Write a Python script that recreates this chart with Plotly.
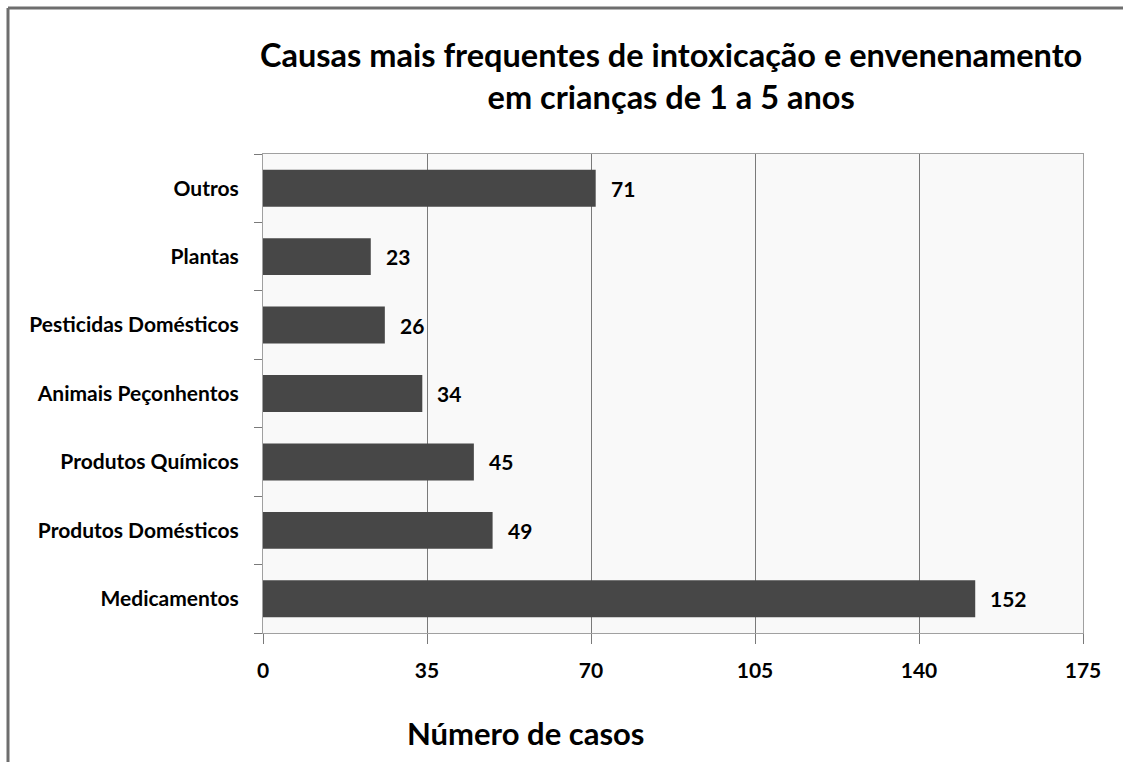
import plotly.graph_objects as go

categories = ["Medicamentos", "Produtos Domésticos", "Produtos Químicos",
              "Animais Peçonhentos", "Pesticidas Domésticos", "Plantas", "Outros"]
values = [152, 49, 45, 34, 26, 23, 71]
x_ticks = [0, 35, 70, 105, 140, 175]

title_text = "Causas mais frequentes de intoxicação e envenenamento<br>em crianças de 1 a 5 anos"
x_title = "Número de casos"

FONT = "Lato"
W, H = 1123, 762
L, R, T, B = 263, 40, 154, 129
pw, ph = W - L - R, H - T - B


def px(x):
    return (x - L) / pw


def py(y):
    return (H - B - y) / ph


fig = go.Figure(go.Bar(
    x=values, y=categories, orientation="h",
    marker=dict(color="#474747", line=dict(width=0)),
    cliponaxis=False,
))

annotations = [
    dict(text=str(v), x=v, y=c, xref="x", yref="y", xanchor="left", yanchor="middle",
         xshift=13, showarrow=False,
         font=dict(family=FONT, size=21, color="#000000", weight="bold"))
    for c, v in zip(categories, values)
]
annotations += [
    dict(text=title_text, xref="paper", yref="paper", x=px(671), y=py(76),
         xanchor="center", yanchor="middle", showarrow=False,
         font=dict(family=FONT, size=32.5, weight="bold")),
    dict(text=x_title, xref="paper", yref="paper", x=px(525), y=py(733),
         xanchor="center", yanchor="middle", showarrow=False,
         font=dict(family=FONT, size=31, weight="bold")),
]

fig.update_layout(
    width=W, height=H,
    margin=dict(l=L, r=R, t=T, b=B),
    paper_bgcolor="#ffffff", plot_bgcolor="#f9f9f9",
    bargap=0.46, showlegend=False,
    font=dict(family=FONT, color="#000000"),
    xaxis=dict(range=[0, 175], tickvals=x_ticks, showgrid=True, gridcolor="#7a7a7a",
               gridwidth=1, zeroline=False, showline=True, linecolor="#a0a0a0",
               mirror=True, ticks="outside", ticklen=10, tickcolor="#7a7a7a",
               tickfont=dict(family=FONT, size=21, weight="bold"), ticklabelstandoff=9),
    yaxis=dict(showgrid=False, showline=True, linecolor="#a0a0a0", mirror=True,
               ticks="outside", ticklen=8, tickcolor="#7a7a7a", tickson="boundaries",
               tickfont=dict(family=FONT, size=21, weight="bold"), ticklabelstandoff=19),
    annotations=annotations,
    shapes=[
        dict(type="line", xref="paper", yref="paper", x0=px(8), x1=px(1123),
             y0=py(8), y1=py(8), line=dict(color="#6e6e6e", width=3)),
        dict(type="line", xref="paper", yref="paper", x0=px(8), x1=px(8),
             y0=py(8), y1=py(762), line=dict(color="#6e6e6e", width=3)),
    ],
)

fig.write_html("out.html", config={"displayModeBar": False},
               post_script="document.body.style.margin='0';")
